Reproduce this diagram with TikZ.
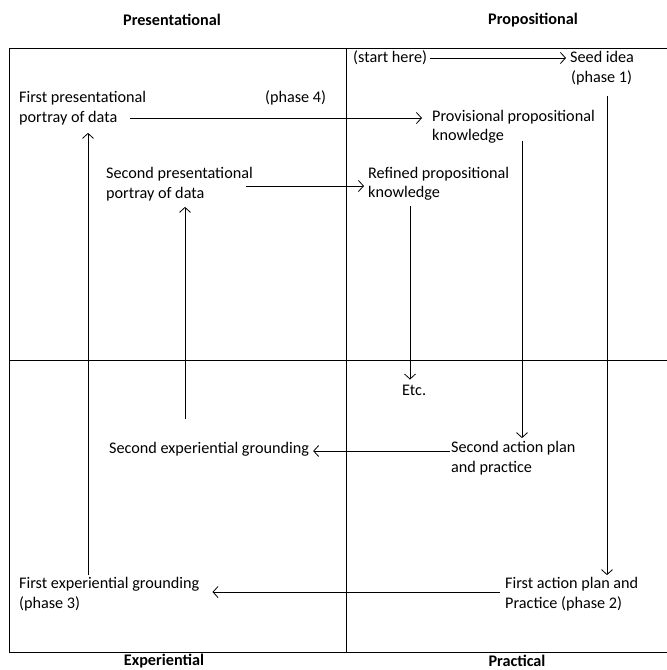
\documentclass[tikz,border=0pt]{standalone}
\usepackage{fontspec}
\setmainfont{Carlito}
\usetikzlibrary{arrows.meta}

\begin{document}
\begin{tikzpicture}[x=1pt,y=-1pt,
    lbl/.style={anchor=west, inner sep=0pt, align=left, font=\fontsize{16.2}{19.5}\selectfont},
    head/.style={inner sep=0pt, font=\fontsize{16.2}{17}\selectfont\bfseries},
    arr/.style={-{Straight Barb[length=5pt,width=11pt]}, line width=0.8pt}
]
\useasboundingbox (0,0) rectangle (667,670);

% frame and quadrants
\draw[line width=0.9pt] (9,48) rectangle (668,652);
\draw[line width=0.8pt] (346,48) -- (346,652);
\draw[line width=0.8pt] (9,360) -- (668,360);

% axis headings
\node[head] (hpres) at (172,20) {Presentational};
\node[head] (hprop) at (533,20) {Propositional};
\node[head] (hexp) at (164,661) {Experiential};
\node[head] (hprac) at (517,661) {Practical};

% texts
\node[lbl] (start) at (353,58) {(start here)};
\node[lbl] (seed) at (570,68) {Seed idea\\\hspace{1pt}(phase 1)};
\node[lbl] (pres1) at (19,108) {First presentational\\portray of data};
\node[lbl] (phase4) at (265,98) {(phase 4)};
\node[lbl] (prov) at (432,127) {Provisional propositional\\knowledge};
\node[lbl] (pres2) at (106,184) {Second presentational\\portray of data};
\node[lbl] (refined) at (368,184) {Refined propositional\\knowledge};
\node[lbl] (etc) at (402,390) {Etc.};
\node[lbl] (exp2) at (109,449) {Second experiential grounding};
\node[lbl] (act2) at (451,458) {Second action plan\\and practice};
\node[lbl] (exp1) at (19,594) {First experiential grounding\\(phase 3)};
\node[lbl] (act1) at (505,594) {First action plan and\\Practice (phase 2)};

% connectors
\draw[arr] ([xshift=3pt]start.east) -- ([xshift=-4pt,yshift=10pt]seed.west);
\draw[arr] ([xshift=111pt,yshift=-10pt]pres1.west) -- ([xshift=-10pt,yshift=9pt]prov.west);
\draw[arr] ([xshift=140pt,yshift=-2pt]pres2.west) -- ([xshift=-4pt,yshift=-2pt]refined.west);
\draw[arr] ([xshift=-1pt,yshift=7pt]act2.west) -- ([xshift=4pt,yshift=-2pt]exp2.east);
\draw[arr] ([xshift=-5pt,yshift=2pt]act1.west) -- ([xshift=13pt,yshift=2pt]exp1.east);
\draw[arr] ([xshift=37pt,yshift=-11pt]seed.south west) -- ([xshift=37pt,yshift=2pt]seed.south west |- act1.north);
\draw[arr] ([xshift=90pt,yshift=3pt]prov.south west) -- ([xshift=90pt,yshift=3pt]prov.south west |- act2.north);
\draw[arr] ([xshift=42pt,yshift=-5pt]refined.south west) -- ([xshift=42pt,yshift=5pt]refined.south west |- etc.north);
\draw[arr] ([xshift=76pt,yshift=23pt]exp2.north west) -- ([xshift=76pt,yshift=-6pt]exp2.north west |- pres2.south);
\draw[arr] ([xshift=69pt,yshift=2pt]exp1.north west) -- ([xshift=69pt,yshift=-8pt]exp1.north west |- pres1.south);
\end{tikzpicture}
\end{document}
